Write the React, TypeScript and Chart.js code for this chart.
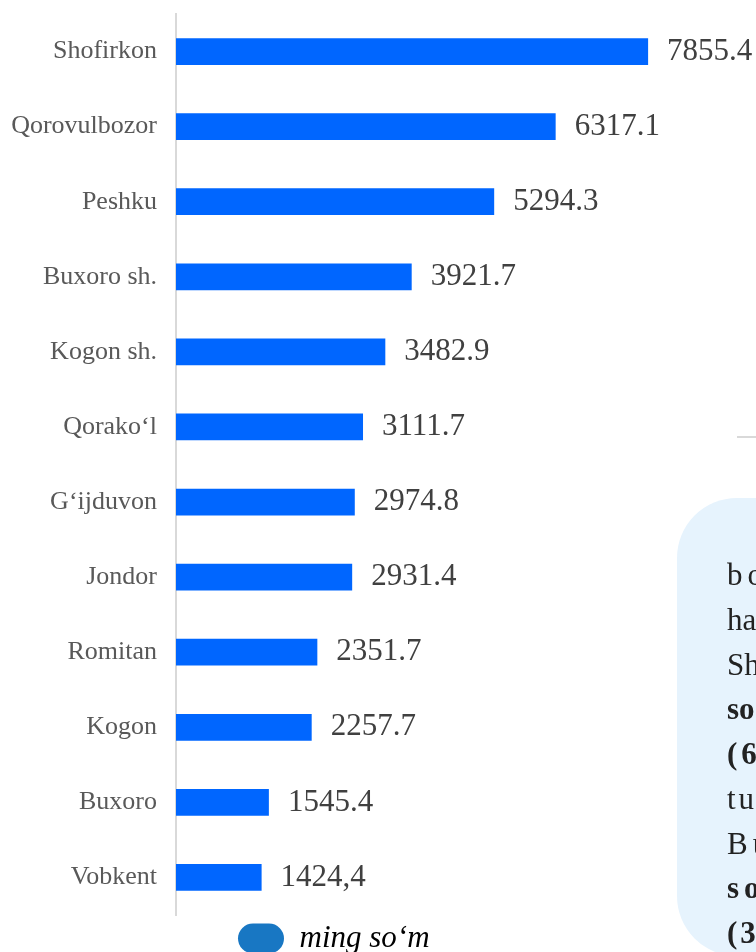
import React, { useEffect, useRef } from "react";
import { Chart, registerables } from "chart.js";

Chart.register(...registerables);

const categories = [
  "Shofirkon",
  "Qorovulbozor",
  "Peshku",
  "Buxoro sh.",
  "Kogon sh.",
  "Qorako‘l",
  "G‘ijduvon",
  "Jondor",
  "Romitan",
  "Kogon",
  "Buxoro",
  "Vobkent",
];
const values = [7855.4, 6317.1, 5294.3, 3921.7, 3482.9, 3111.7, 2974.8, 2931.4, 2351.7, 2257.7, 1545.4, 1424.4];
const valueLabels = ["7855.4", "6317.1", "5294.3", "3921.7", "3482.9", "3111.7", "2974.8", "2931.4", "2351.7", "2257.7", "1545.4", "1424,4"];
const seriesName = "ming so‘m";
const axisMax = 10000;

const noteLines = [
  { text: "bo‘yicha eng", bold: false, spacing: 5 },
  { text: "hamda", bold: false, spacing: 0 },
  { text: "Shofirkon", bold: false, spacing: 0 },
  { text: "so‘m", bold: true, spacing: 0 },
  { text: "(6317,1", bold: true, spacing: 4 },
  { text: "tuman", bold: false, spacing: 3 },
  { text: "Buxoro", bold: false, spacing: 5 },
  { text: "so‘m", bold: true, spacing: 5 },
  { text: "(3921,7", bold: true, spacing: 3 },
];

const FONT = "'Liberation Serif', 'Times New Roman', serif";

const valueLabelPlugin = {
  id: "valueLabelPlugin",
  afterDatasetsDraw(chart: any) {
    const ctx = chart.ctx;
    const meta = chart.getDatasetMeta(0);
    ctx.save();
    ctx.font = `31px ${FONT}`;
    ctx.fillStyle = "#404040";
    ctx.textAlign = "left";
    ctx.textBaseline = "middle";
    meta.data.forEach((el: any, i: number) => {
      ctx.fillText(valueLabels[i], el.x + 19, el.y);
    });
    ctx.restore();
  },
};

const legendShiftPlugin = {
  id: "legendShiftPlugin",
  beforeDraw(chart: any) {
    const lg = chart.legend;
    if (lg) {
      lg.left = 238 - 8;
    }
  },
};

export default function App() {
  const canvasRef = useRef<HTMLCanvasElement | null>(null);

  useEffect(() => {
    if (!canvasRef.current) return;
    const chart = new Chart(canvasRef.current, {
      type: "bar",
      data: {
        labels: categories,
        datasets: [
          {
            label: seriesName,
            data: values,
            backgroundColor: "#0066ff",
            borderWidth: 0,
            barPercentage: 1,
            categoryPercentage: 0.356,
          },
        ],
      },
      options: {
        indexAxis: "y",
        responsive: false,
        animation: false,
        devicePixelRatio: 1,
        layout: { padding: { top: 14, left: 0, right: 0, bottom: 0 } },
        scales: {
          x: { display: false, min: 0, max: axisMax },
          y: {
            grid: { display: false, drawTicks: false },
            border: { display: true, color: "#d9d9d9", width: 2 },
            ticks: {
              color: "#595959",
              font: { size: 26, family: FONT },
              padding: 19,
              autoSkip: false,
            },
            afterFit(scale: any) {
              scale.width = 176;
              scale.paddingTop = 0;
              scale.paddingBottom = 0;
            },
          },
        },
        plugins: {
          tooltip: { enabled: false },
          legend: {
            display: true,
            position: "bottom",
            align: "start",
            labels: {
              padding: 8,
              boxWidth: 46,
              boxHeight: 30,
              useBorderRadius: true,
              borderRadius: 15,
              color: "#000000",
              font: { size: 31, family: FONT, style: "italic" },
              generateLabels(c: any) {
                const items = Chart.defaults.plugins.legend.labels.generateLabels(c);
                return items.map((it: any) => ({
                  ...it,
                  fillStyle: "#1877c3",
                  strokeStyle: "#1877c3",
                  lineWidth: 0,
                  borderRadius: 15,
                }));
              },
            },
          },
        },
      },
      plugins: [valueLabelPlugin, legendShiftPlugin],
    } as any);
    return () => chart.destroy();
  }, []);

  return (
    <div
      style={{
        position: "fixed",
        left: 0,
        top: 0,
        width: 756,
        height: 952,
        overflow: "hidden",
        background: "#ffffff",
      }}
    >
      <canvas
        ref={canvasRef}
        width={777}
        height={964}
        style={{ position: "absolute", left: 0, top: 0, display: "block" }}
      />
      <div
        style={{
          position: "absolute",
          left: 737,
          top: 436,
          width: 30,
          height: 2,
          background: "#d9d9d9",
        }}
      />
      <div
        style={{
          position: "absolute",
          left: 677,
          top: 498,
          width: 140,
          height: 458,
          background: "#e6f3fd",
          borderRadius: 60,
        }}
      />
      <div
        style={{
          position: "absolute",
          left: 727,
          top: 553,
          fontFamily: FONT,
          fontSize: 31,
          lineHeight: "44.75px",
          color: "#222222",
          whiteSpace: "nowrap",
        }}
      >
        {noteLines.map((l, i) => (
          <div key={i} style={{ fontWeight: l.bold ? 700 : 400, letterSpacing: l.spacing }}>
            {l.text}
          </div>
        ))}
      </div>
    </div>
  );
}
